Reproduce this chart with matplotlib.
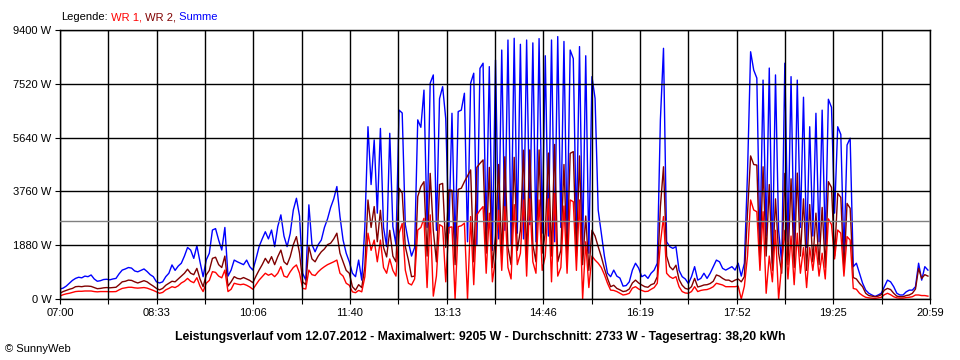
import matplotlib
matplotlib.use("Agg")
import matplotlib.pyplot as plt
import numpy as np

plt.rcParams['font.family'] = ['Liberation Sans', 'DejaVu Sans']

summe = [
    350, 380, 450, 550, 650, 720, 760, 740, 800, 780,
    840, 700, 620, 640, 680, 690, 670, 700, 720, 880,
    1010, 1050, 1100, 1080, 980, 950, 1000, 1050, 960, 850,
    780, 600, 560, 600, 780, 900, 1190, 1000, 1150, 1250,
    1500, 1800, 1710, 1420, 1860, 1300, 780, 1360, 1600, 2410,
    2460, 2060, 1710, 2500, 800, 1010, 1360, 1300, 1250, 1200,
    1360, 1130, 1010, 1400, 1830, 2100, 2350, 2100, 2410, 1830,
    2530, 2940, 2200, 1830, 2290, 3110, 3520, 2900, 900, 660,
    3290, 1900, 1650, 1900, 2060, 2500, 2800, 3200, 3500, 3930,
    2880, 2060, 1600, 1300, 900, 780, 1360, 660, 2530, 6020,
    4000, 5560, 3000, 5960, 2500, 1830, 5790, 2530, 1900, 6600,
    6500, 2600, 2000, 1500, 1800, 6260, 6000, 7300, 2500, 7540,
    7830, 2400, 7000, 7420, 6300, 2300, 6490, 1800, 6550, 6600,
    7190, 2000, 7540, 7890, 1900, 8060, 8240, 2200, 8120, 1700,
    8350, 2100, 8700, 2400, 9050, 1900, 9110, 2300, 8900, 2100,
    9050, 2600, 8950, 2000, 9100, 2300, 8500, 2200, 9050, 2000,
    9170, 2500, 9000, 2100, 8700, 8400, 2300, 8820, 1700, 8500,
    1600, 7770, 7010, 3110, 2300, 1500, 900, 780, 1010, 800,
    730, 450, 470, 600, 1010, 1250, 1080, 780, 840, 720,
    900, 1010, 1250, 6260, 8760, 2000, 1830, 1770, 1830, 1000,
    780, 700, 540, 780, 1130, 660, 720, 900, 720, 900,
    1130, 1360, 1300, 1070, 1010, 1070, 1130, 1010, 1250, 800,
    1250, 4390, 8640, 8000, 7720, 1800, 7650, 2200, 8070, 1250,
    7830, 2400, 1250, 8240, 2000, 7770, 1600, 7650, 2500, 7050,
    1800, 6020, 2200, 6490, 2000, 6600, 1900, 6980, 6700, 3000,
    6020, 5750, 1500, 5380, 5620, 1130, 1250, 900, 550, 310,
    200, 140, 90, 140, 200, 430, 660, 600, 430, 200,
    140, 140, 250, 310, 310, 430, 1250, 660, 1130, 1010,
]

wr2 = [
    200, 260, 300, 340, 370, 430, 440, 430, 450, 450,
    440, 400, 360, 370, 390, 400, 390, 400, 410, 500,
    600, 620, 660, 650, 600, 560, 600, 640, 600, 520,
    450, 370, 320, 370, 480, 550, 620, 600, 700, 800,
    900, 1040, 900, 850, 1070, 700, 430, 840, 1000, 1420,
    1460, 1200, 1100, 1500, 450, 600, 780, 720, 700, 750,
    700, 650, 570, 800, 1010, 1200, 1420, 1250, 1480, 1200,
    1480, 1710, 1300, 1200, 1480, 1900, 2180, 1600, 600, 500,
    1830, 1400, 1300, 1500, 1650, 1750, 1900, 1950, 2100, 2300,
    1600, 1300, 1000, 900, 430, 310, 500, 400, 1130, 3460,
    2500, 3230, 2000, 3100, 1800, 1470, 2400, 1500, 1300, 3870,
    3700, 1830, 1360, 780, 800, 3580, 3930, 4100, 1500, 4390,
    2400, 1300, 4000, 4040, 1800, 3810, 3800, 1200, 3830, 3870,
    4100, 4300, 4510, 1300, 4600, 4740, 4860, 1600, 4600, 1100,
    2200, 4700, 1500, 4970, 1800, 1200, 4950, 1700, 2400, 5200,
    1400, 5210, 1900, 1300, 5210, 1600, 2300, 5100, 1500, 5400,
    1300, 1700, 4700, 1400, 5090, 5150, 1500, 5000, 1200, 2900,
    1000, 2400, 2200, 1830, 1480, 1070, 720, 430, 480, 370,
    320, 260, 280, 350, 560, 660, 560, 490, 430, 410,
    500, 540, 780, 3230, 4620, 1500, 1130, 1020, 1180, 680,
    480, 370, 340, 430, 720, 420, 450, 490, 500, 540,
    620, 840, 800, 720, 660, 660, 600, 660, 700, 600,
    780, 3000, 5000, 4700, 4680, 1200, 4620, 1500, 4000, 1000,
    3500, 1600, 900, 4390, 1200, 4200, 1100, 4400, 1500, 3500,
    1000, 3300, 1300, 3000, 1200, 3200, 1100, 4100, 3900, 1500,
    3690, 3550, 1000, 3340, 3170, 750, 700, 550, 430, 200,
    120, 100, 80, 100, 150, 310, 370, 330, 200, 100,
    80, 80, 120, 140, 200, 350, 1070, 720, 850, 800,
]

wr1 = [
    105, 150, 180, 200, 230, 260, 270, 270, 280, 280,
    280, 260, 250, 260, 260, 260, 255, 255, 260, 320,
    370, 390, 410, 410, 390, 380, 390, 400, 380, 340,
    300, 250, 200, 230, 320, 370, 430, 400, 460, 560,
    620, 720, 620, 570, 745, 450, 260, 550, 650, 955,
    930, 800, 740, 1010, 260, 340, 550, 520, 500, 520,
    480, 420, 340, 500, 660, 780, 900, 830, 880, 780,
    900, 1130, 800, 760, 950, 1100, 1190, 900, 370, 350,
    1010, 850, 820, 950, 1050, 1130, 1200, 1250, 1300, 1360,
    900, 800, 550, 480, 250, 220, 300, 250, 780, 2300,
    1700, 2060, 1300, 2060, 1100, 900, 1400, 1000, 800, 2300,
    2640, 1010, 550, 490, 700, 2410, 2500, 2820, 400, 2940,
    100, 800, 2600, 2530, 600, 2500, 2520, 0, 2530, 2560,
    2650, 0, 2880, 500, 2940, 3100, 3230, 900, 3000, 600,
    1400, 3100, 1000, 3230, 1100, 700, 3300, 1200, 1600, 3460,
    800, 3500, 1300, 900, 3460, 1000, 1500, 3500, 600, 3690,
    800, 1100, 3250, 900, 3460, 3400, 1000, 3460, 0, 2000,
    400, 1500, 1360, 1250, 1100, 850, 550, 310, 300, 260,
    200, 140, 160, 200, 380, 430, 350, 300, 260, 270,
    340, 400, 550, 1950, 2880, 900, 780, 720, 780, 430,
    260, 210, 200, 260, 430, 260, 300, 320, 330, 370,
    430, 550, 520, 490, 430, 430, 430, 430, 450, 0,
    450, 1500, 3460, 3110, 3050, 1000, 3050, 200, 1500, 600,
    2400, 0, 1200, 2400, 700, 2200, 500, 2300, 900, 1800,
    400, 1800, 1000, 1900, 800, 1600, 700, 2800, 2600, 1400,
    2410, 2300, 800, 2180, 2060, 370, 340, 200, 120, 60,
    40, 30, 20, 40, 60, 150, 200, 150, 80, 40,
    30, 30, 50, 60, 80, 140, 140, 120, 120, 100,
]

durchschnitt = 2733
y_ticks = [0, 1880, 3760, 5640, 7520, 9400]
x_labels = ["07:00", "08:33", "10:06", "11:40", "13:13",
            "14:46", "16:19", "17:52", "19:25", "20:59"]
start_min, end_min = 420, 1259

minuten = start_min + 3 * np.arange(len(summe))

fig = plt.figure(figsize=(9.6, 3.6), dpi=100)
ax = fig.add_axes([60/960, 1 - 299/360, 870/960, 269/360])

ax.plot(minuten, summe, color='#0000ff', lw=1.0)
ax.plot(minuten, wr2, color='#800000', lw=1.0)
ax.plot(minuten, wr1, color='#ff0000', lw=1.0)
ax.axhline(durchschnitt, color='#808080', lw=1, zorder=3)

ax.set_xlim(start_min, end_min)
ax.set_ylim(0, 9400)

xt = np.linspace(start_min, end_min, 19)
labels = []
for k in range(19):
    labels.append(x_labels[k // 2] if k % 2 == 0 else "")
ax.set_xticks(xt, labels=labels)
ax.set_yticks(y_ticks, labels=[f"{v} W" for v in y_ticks])

ax.set_axisbelow(False)
ax.grid(True, color='black', lw=1)
for s in ax.spines.values():
    s.set_color('black')
    s.set_linewidth(1)
ax.tick_params(direction='out', length=3.6, width=0.8, labelsize=8, colors='black')
ax.tick_params(axis='y', pad=2.5)
ax.tick_params(axis='x', pad=3)

# Legende oben links, farbige Teile hintereinander
r = fig.canvas.get_renderer()
x = 61/960
for s, c in [("Legende:", "black"), (" WR 1,", "#ff0000"),
             (" WR 2,", "#800000"), (" Summe", "#0000ff")]:
    tx = fig.text(x, 1 - 17/360, s, color=c, fontsize=8, va='center', ha='left')
    bb = tx.get_window_extent(renderer=r)
    x = bb.x1 / 960

fig.text(0.5, 1 - 337/360,
         "Leistungsverlauf vom 12.07.2012 - Maximalwert: 9205 W - Durchschnitt: 2733 W - Tagesertrag: 38,20 kWh",
         ha='center', va='center', fontsize=8.8, fontweight='bold')
fig.text(5/960, 1 - 349/360, "© SunnyWeb", ha='left', va='center', fontsize=8)

fig.savefig("out.png", dpi=100)
